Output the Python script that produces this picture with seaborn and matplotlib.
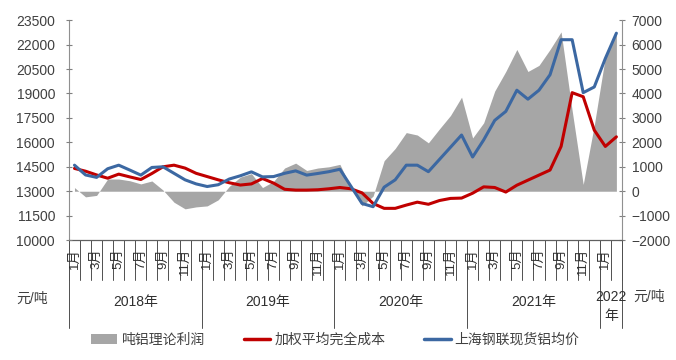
import numpy as np
import pandas as pd
import matplotlib
matplotlib.use('Agg')
import matplotlib.pyplot as plt
from matplotlib.patches import Patch
from matplotlib.lines import Line2D
import matplotlib.transforms as mtransforms
import seaborn as sns

# monthly data, Jan 2018 - Feb 2022
years = ['2018年', '2019年', '2020年', '2021年', '2022\n年']
months_per_year = [12, 12, 12, 12, 2]

# 上海钢联现货铝均价 (left axis)
price = [14600, 14000, 13850, 14380, 14600, 14300, 13990, 14460, 14500, 14100, 13700, 13450,
         13290, 13400, 13750, 13950, 14190, 13880, 13900, 14100, 14250, 13990, 14090, 14200,
         14350, 13300, 12250, 12050, 13250, 13700, 14600, 14600, 14200, 14950, 15700, 16450,
         15100, 16150, 17350, 17900, 19200, 18650, 19200, 20150, 22300, 22300, 19050, 19400,
         21150, 22700]
# 加权平均完全成本 (left axis)
cost = [14400, 14230, 14000, 13800, 14050, 13880, 13720, 14090, 14500, 14600, 14420, 14100,
        13900, 13700, 13520, 13380, 13450, 13780, 13500, 13120, 13070, 13070, 13090, 13150,
        13230, 13150, 12900, 12250, 11950, 11950, 12150, 12330, 12200, 12430, 12560, 12580,
        12880, 13270, 13230, 12950, 13370, 13680, 13990, 14300, 15750, 19050, 18800, 16750,
        15750, 16340]
# 吨铝理论利润 (right axis)
profit = [150, -230, -170, 500, 500, 430, 300, 420, 50, -450, -720, -640,
          -600, -350, 200, 580, 720, 150, 400, 950, 1150, 850, 950, 1000,
          1100, 150, -600, -200, 1250, 1750, 2400, 2300, 1980, 2550, 3100, 3850,
          2180, 2800, 4100, 4900, 5800, 4900, 5150, 5800, 6520, 3300, 280, 2700,
          5500, 6500]

month_names = []
for n in months_per_year:
    month_names += [f'{m}月' for m in range(1, n + 1)]

df = pd.DataFrame({'idx': np.arange(len(price)), 'price': price,
                   'cost': cost, 'profit': profit})

sns.set_theme(style='white')
plt.rcParams['font.family'] = ['Liberation Sans', 'Noto Sans CJK SC']

fig = plt.figure(figsize=(6.76, 3.6), dpi=100)
ax = fig.add_axes([0.102, 0.333, 0.818, 0.611])

# profit area on the right-hand scale
ax.fill_between(df['idx'], 0, df['profit'], color='#A6A6A6', lw=0)
ax.set_xlim(-0.5, len(price) - 0.5)
ax.set_ylim(-2000, 7000)

ax2 = ax.twinx()
sns.lineplot(data=df, x='idx', y='cost', ax=ax2, color='#C00000', lw=2.2)
sns.lineplot(data=df, x='idx', y='price', ax=ax2, color='#3C68A2', lw=2.2)
ax2.set_ylim(10000, 23500)
ax2.set_xlabel('')
ax2.set_ylabel('')

# swap sides: profit scale on the right, price scale on the left
ax.yaxis.tick_right()
ax2.yaxis.tick_left()
ax.set_yticks(range(-2000, 7001, 1000))
ax2.set_yticks(range(10000, 23501, 1500))
ax.set_xticks([])

ax.tick_params(axis='y', direction='inout', length=4, width=0.8, color='#808080',
               labelsize=10, labelcolor='#404040', pad=5)
ax2.tick_params(axis='y', direction='inout', length=4, width=0.8, color='#808080',
                labelsize=10, labelcolor='#404040', pad=8)

for s in ax2.spines.values():
    s.set_visible(False)
ax.spines['top'].set_visible(False)
for side in ['left', 'right']:
    ax.spines[side].set_color('#909090')
    ax.spines[side].set_linewidth(0.8)
ax.spines['bottom'].set_color('#606060')
ax.spines['bottom'].set_linewidth(0.9)

# multi-level category axis
trans = mtransforms.blended_transform_factory(ax.transData, ax.transAxes)
n = len(price)
for b in range(n + 1):
    ax.plot([b - 0.5, b - 0.5], [0, -0.182], transform=trans, color='#505050',
            lw=0.7, clip_on=False)
for i, name in enumerate(month_names):
    if i % 2 == 0:
        ax.text(i, -0.036, name, transform=trans, rotation=90, ha='center', va='top',
                fontsize=9.5, color='#303030')

start = 0
bounds = [0]
for n_m in months_per_year:
    start += n_m
    bounds.append(start)
for b in bounds:
    ax.plot([b - 0.5, b - 0.5], [0, -0.4], transform=trans, color='#505050',
            lw=0.7, clip_on=False)
for k, yr in enumerate(years):
    mid = (bounds[k] + bounds[k + 1] - 1) / 2
    ypos = -0.303 if '\n' in yr else -0.28
    ax.text(mid, ypos, yr, transform=trans, ha='center', va='center', fontsize=10,
            color='#303030', linespacing=1.45)

ax.text(-0.067, -0.268, '元/吨', transform=ax.transAxes, ha='center', va='center',
        fontsize=10, color='#404040')
ax.text(1.05, -0.258, '元/吨', transform=ax.transAxes, ha='center', va='center',
        fontsize=10, color='#404040')

handles = [Patch(facecolor='#A6A6A6', edgecolor='none'),
           Line2D([], [], color='#C00000', lw=2.5),
           Line2D([], [], color='#3C68A2', lw=2.5)]
labels = ['吨铝理论利润', '加权平均完全成本', '上海钢联现货铝均价']
leg = fig.legend(handles, labels, loc='center', bbox_to_anchor=(0.496, 0.056), ncol=3,
                 frameon=False, fontsize=10, handlelength=1.9, handletextpad=0.3,
                 columnspacing=2.8)
for t in leg.get_texts():
    t.set_color('#404040')

fig.savefig('out.png', dpi=100)
